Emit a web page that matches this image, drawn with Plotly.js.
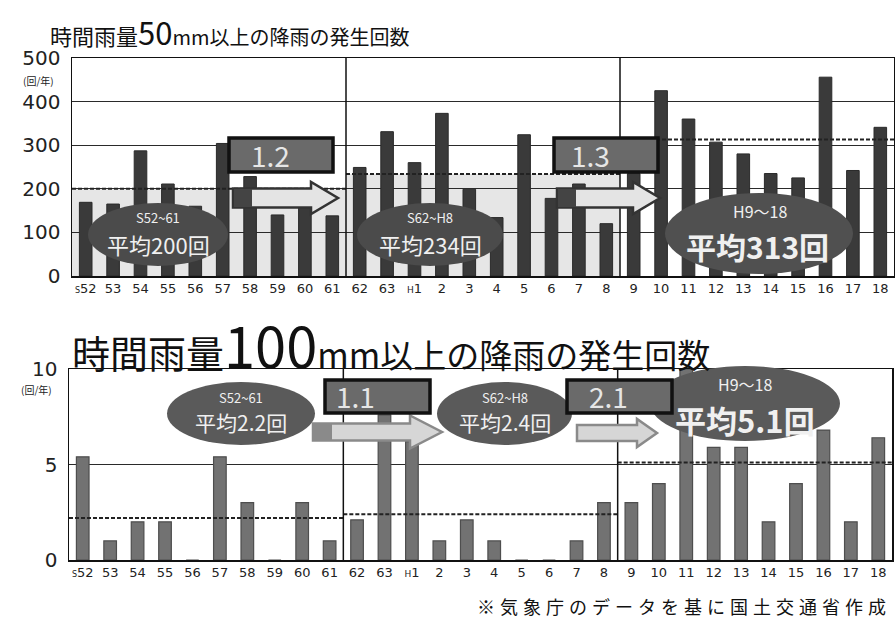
<!DOCTYPE html>
<html><head><meta charset="utf-8">
<script src="https://cdn.plot.ly/plotly-3.0.1.min.js"></script>
<style>html,body{margin:0;padding:0;background:#fff;}#chart{width:895px;height:620px;}</style>
</head><body><div id="chart"></div>
<script>
// ---- data ----
const categories = ["S52","S53","S54","S55","S56","S57","S58","S59","S60","S61",
  "S62","S63","H1","H2","H3","H4","H5","H6","H7","H8",
  "H9","H10","H11","H12","H13","H14","H15","H16","H17","H18"];
const tickLabels = ['<span style="font-size:8px">S</span>52',"53","54","55","56","57","58","59","60","61",
  "62","63",'<span style="font-size:9px">H</span>1',"2","3","4","5","6","7","8",
  "9","10","11","12","13","14","15","16","17","18"];
const rain50 = [169,165,287,211,160,304,228,140,195,138,
  249,331,260,373,199,134,324,178,211,120,
  235,425,360,307,280,235,225,456,242,341];
const rain100 = [5.4,1.0,2.0,2.0,0,5.4,3.0,0,3.0,1.0,
  2.1,7.6,6.2,1.0,2.1,1.0,0,0,1.0,3.0,
  3.0,4.0,10,5.9,5.9,2.0,4.0,6.8,2.0,6.4];
const periodStart = [0,10,20];
const periodEnd = [9,19,29];
const periodNames = ["S52~61","S62~H8","H9〜18"];
const avg50 = [200,234,313];
const avg100 = [2.2,2.4,5.1];
const ratio50 = ["1.2","1.3"];
const ratio100 = ["1.1","2.1"];
const title50 = '<span style="font-size:22px">時間雨量</span><span style="font-size:31px">50</span>mm以上の降雨の発生回数';
const title100 = '<span style="font-size:38px">時間雨量</span><span style="font-size:56px">100</span><span style="font-size:34px">mm</span>以上の降雨の発生回数';
const unitLabel = "(回/年)";
const sourceNote = "※気象庁のデータを基に国土交通省作成";

// ---- helpers (pixel -> paper) ----
const W = 895, H = 620;
const X = p => p / W;
const Y = p => 1 - p / H;
const CJK = '"Noto Sans CJK JP", "Noto Sans", sans-serif';

function arrowPath(x0, x1, yc, bh, hh, hw) {
  const pts = [[x0, yc - bh/2],[x1 - hw, yc - bh/2],[x1 - hw, yc - hh/2],[x1, yc],
    [x1 - hw, yc + hh/2],[x1 - hw, yc + bh/2],[x0, yc + bh/2]];
  return 'M' + pts.map(p => X(p[0]).toFixed(5) + ',' + Y(p[1]).toFixed(5)).join(' L') + ' Z';
}
function ellipse(x0, x1, y0, y1, fill) {
  return {type:'circle', xref:'paper', yref:'paper', x0:X(x0), x1:X(x1), y0:Y(y1), y1:Y(y0),
    fillcolor:fill, line:{width:0}, layer:'above'};
}
function box(x0, x1, y0, y1) {
  return {type:'rect', xref:'paper', yref:'paper', x0:X(x0), x1:X(x1), y0:Y(y1), y1:Y(y0),
    fillcolor:'#6a6a6a', line:{color:'#111', width:3.5}, layer:'above'};
}
function txt(x, y, text, size, color, extra) {
  return Object.assign({xref:'paper', yref:'paper', x:X(x), y:Y(y), text:text, showarrow:false,
    xanchor:'center', yanchor:'middle', font:{family:CJK, size:size, color:color||'#f0f0f0'}}, extra||{});
}

// ---- traces ----
const traces = [
  {type:'bar', x:categories, y:rain50, xaxis:'x', yaxis:'y', width:0.46,
   marker:{color:'#3a3a3a', line:{color:'#2a2a2a', width:1}}, hoverinfo:'x+y'},
  {type:'bar', x:categories, y:rain100, xaxis:'x2', yaxis:'y2', width:0.46,
   marker:{color:'#727272', line:{color:'#4e4e4e', width:1.2}}, hoverinfo:'x+y'}
];

// ---- shapes ----
const shapes = [];
for (let i = 0; i < 2; i++) {
  shapes.push({type:'rect', xref:'x', yref:'y', x0:periodStart[i]-0.5, x1:periodEnd[i]+0.5, y0:0, y1:avg50[i],
    fillcolor:'#e6e6e6', line:{width:0}, layer:'below'});
}
for (let i = 0; i < 3; i++) {
  shapes.push({type:'line', xref:'x', yref:'y', x0:periodStart[i]-0.5, x1:periodEnd[i]+0.5, y0:avg50[i], y1:avg50[i],
    line:{color:'#222', width:2, dash:'4px,2px'}, layer:'above'});
  shapes.push({type:'line', xref:'x2', yref:'y2', x0:periodStart[i]-0.5, x1:periodEnd[i]+0.5, y0:avg100[i], y1:avg100[i],
    line:{color:'#222', width:2, dash:'4px,2px'}, layer:'above'});
}
for (let i = 1; i < 3; i++) {
  shapes.push({type:'line', xref:'x', yref:'y', x0:periodStart[i]-0.5, x1:periodStart[i]-0.5, y0:0, y1:500,
    line:{color:'#111', width:1.5}, layer:'above'});
  shapes.push({type:'line', xref:'x2', yref:'y2', x0:periodStart[i]-0.5, x1:periodStart[i]-0.5, y0:0, y1:10,
    line:{color:'#111', width:1.5}, layer:'above'});
}
// top chart decorations
shapes.push({type:'path', xref:'paper', yref:'paper', path:arrowPath(233, 338, 198, 19, 32, 27),
  fillcolor:'#e4e4e4', line:{color:'#333', width:2.5}, layer:'above'});
shapes.push({type:'rect', xref:'paper', yref:'paper', x0:X(234), x1:X(252), y0:Y(207), y1:Y(189),
  fillcolor:'#444', line:{width:0}, layer:'above'});
shapes.push({type:'path', xref:'paper', yref:'paper', path:arrowPath(557, 660, 198, 19, 32, 27),
  fillcolor:'#e4e4e4', line:{color:'#333', width:2.5}, layer:'above'});
shapes.push({type:'rect', xref:'paper', yref:'paper', x0:X(558), x1:X(576), y0:Y(207), y1:Y(189),
  fillcolor:'#444', line:{width:0}, layer:'above'});
shapes.push(box(229, 333, 138, 172));
shapes.push(box(554, 658, 138, 172));
shapes.push(ellipse(88, 228, 203, 266, '#4b4b4b'));
shapes.push(ellipse(357, 503, 203, 266, '#4b4b4b'));
shapes.push(ellipse(665, 853, 193, 274, '#505050'));
// bottom chart decorations
shapes.push(ellipse(167, 315, 382, 445, '#5a5a5a'));
shapes.push(ellipse(437, 572, 382, 445, '#5a5a5a'));
shapes.push({type:'path', xref:'paper', yref:'paper', path:arrowPath(313, 442, 432, 17, 33, 32),
  fillcolor:'#d6d6d6', line:{color:'#8a8a8a', width:2.5}, layer:'above'});
shapes.push({type:'rect', xref:'paper', yref:'paper', x0:X(314), x1:X(332), y0:Y(440), y1:Y(424),
  fillcolor:'#8a8a8a', line:{width:0}, layer:'above'});
shapes.push({type:'path', xref:'paper', yref:'paper', path:arrowPath(577, 657, 433, 16, 28, 20),
  fillcolor:'#d6d6d6', line:{color:'#8a8a8a', width:2.5}, layer:'above'});
shapes.push(box(325, 430, 380, 413));
shapes.push(ellipse(650, 840, 366, 441, '#5a5a5a'));
shapes.push(box(567, 672, 380, 413));

// ---- annotations ----
const annotations = [
  txt(48, 31, title50, 20, '#111', {xanchor:'left'}),
  txt(70, 343, title100, 33, '#111', {xanchor:'left'}),
  txt(38, 80, unitLabel, 10, '#222'),
  txt(36, 389, unitLabel, 10, '#222'),
  txt(893, 606, '<span style="letter-spacing:5px">' + sourceNote + '</span>', 18, '#111', {xanchor:'right'}),
  // top
  txt(158, 218, periodNames[0], 13), txt(158, 244, '平均' + avg50[0] + '回', 22),
  txt(430, 218, periodNames[1], 13), txt(430, 244, '平均' + avg50[1] + '回', 22),
  txt(760, 211, periodNames[2], 16), txt(757, 246, '<b>平均' + avg50[2] + '回</b>', 30),
  txt(270, 155, ratio50[0], 28, '#e6e6e6'),
  txt(590, 155, ratio50[1], 28, '#e6e6e6'),
  // bottom
  txt(241, 397, periodNames[0], 13), txt(241, 422, '平均' + avg100[0] + '回', 21),
  txt(505, 397, periodNames[1], 13), txt(505, 422, '平均' + avg100[1] + '回', 21),
  txt(745, 384, periodNames[2], 16), txt(745, 419, '<b>平均' + avg100[2] + '回</b>', 31),
  txt(355, 396, ratio100[0], 28, '#e6e6e6'),
  txt(608, 396, ratio100[1], 28, '#e6e6e6')
];

const xCommon = {type:'category', tickmode:'array', tickvals:categories, ticktext:tickLabels,
  range:[-0.5, 29.5], showline:true, mirror:true, linecolor:'#111', linewidth:1.5,
  ticks:'', showgrid:false, zeroline:false, fixedrange:true,
  tickfont:{family:'DejaVu Sans', size:13, color:'#222'}};
const yCommon = {showline:true, mirror:true, linecolor:'#111', linewidth:1.5, ticks:'',
  gridcolor:'#2a2a2a', gridwidth:1, zeroline:false, fixedrange:true, ticklabelstandoff:6,
  tickfont:{family:'DejaVu Sans', size:20, color:'#222'}};

const layout = {
  width:W, height:H, margin:{l:0, r:0, t:0, b:0}, paper_bgcolor:'#fff', plot_bgcolor:'#fff',
  showlegend:false, bargap:0.5,
  xaxis:Object.assign({}, xCommon, {domain:[X(72), X(894)], anchor:'y'}),
  yaxis:Object.assign({}, yCommon, {domain:[Y(276), Y(58)], range:[0,500], dtick:100, anchor:'x'}),
  xaxis2:Object.assign({}, xCommon, {domain:[X(69), X(892)], anchor:'y2'}),
  yaxis2:Object.assign({}, yCommon, {domain:[Y(560), Y(369)], range:[0,10], tickvals:[0,5,10], anchor:'x2'}),
  shapes:shapes, annotations:annotations
};

Plotly.newPlot('chart', traces, layout, {staticPlot:true, displayModeBar:false});
</script></body></html>
